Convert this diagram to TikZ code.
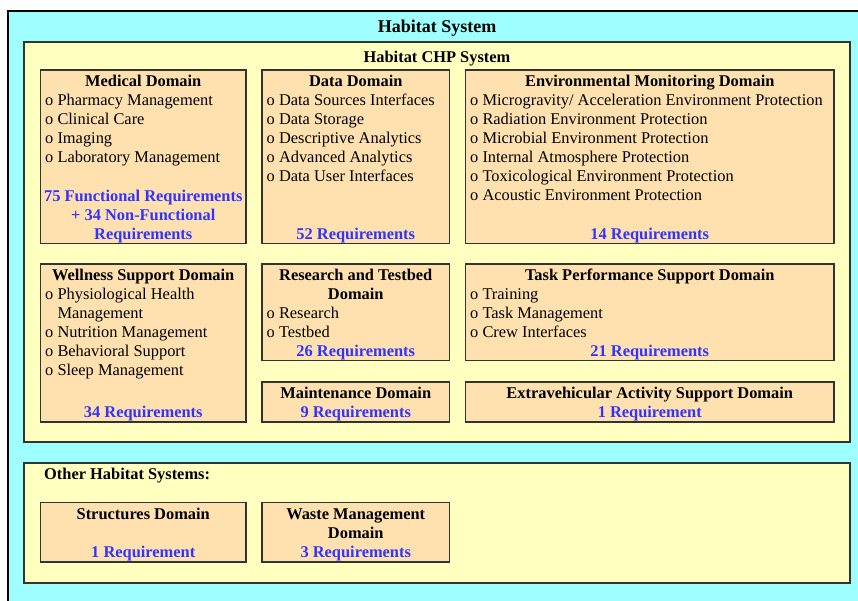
\documentclass[tikz,border=0pt]{standalone}
\usepackage{fontspec}
\setmainfont{Liberation Serif}
\usetikzlibrary{positioning}
\definecolor{habcyan}{HTML}{9FFFFF}
\definecolor{chpyellow}{HTML}{FFFFC0}
\definecolor{dompeach}{HTML}{FFE1B0}
\definecolor{reqblue}{HTML}{3333FF}
\tikzset{
  sysbox/.style={draw=black!80, line width=1.2pt, fill=chpyellow, anchor=north west, inner sep=0pt, outer sep=0pt},
  dombox/.style={draw=black!80, line width=1.1pt, fill=dompeach, anchor=north west, inner sep=0pt, outer sep=0pt},
  head/.style={font=\fontsize{16.4}{19}\selectfont\bfseries, anchor=base, inner sep=0pt, align=center},
  items/.style={font=\fontsize{16.4}{19}\selectfont, anchor=base west, inner sep=0pt, align=left},
  req/.style={font=\fontsize{16.4}{19}\selectfont\bfseries, text=reqblue, anchor=base, inner sep=0pt, align=center}
}
\begin{document}
\begin{tikzpicture}[x=1pt,y=-1pt]
\useasboundingbox (0,0) rectangle (858,600);
\draw[fill=habcyan, line width=2pt] (8,11) rectangle (866,610);
\node[head, font=\fontsize{18}{21}\selectfont\bfseries] (habitat) at (437,32.5) {Habitat System};

% CHP system and its domains (base of a text = its last line)
\node[sysbox, minimum width=826pt, minimum height=400pt] (chp) at (24,42) {};
\node[head] (chpT) at ([yshift=-20pt]chp.north) {Habitat CHP System};

\node[dombox, minimum width=205.5pt, minimum height=173.5pt] (med) at (40.5,70) {};
\node[head] (medT) at ([yshift=-16.5pt]med.north) {Medical Domain};
\node[items] (medL) at ([xshift=4.5pt,yshift=-92.5pt]med.north west) {o Pharmacy Management\\o Clinical Care\\o Imaging\\o Laboratory Management};
\node[req] (medR) at ([yshift=4.5pt]med.south) {75 Functional Requirements\\+ 34 Non-Functional\\Requirements};

\node[dombox, minimum width=187.5pt, minimum height=173.5pt] (data) at (262,70) {};
\node[head] (dataT) at ([yshift=-16.5pt]data.north) {Data Domain};
\node[items] (dataL) at ([xshift=4.5pt,yshift=-111.5pt]data.north west) {o Data Sources Interfaces\\o Data Storage\\o Descriptive Analytics\\o Advanced Analytics\\o Data User Interfaces};
\node[req] (dataR) at ([yshift=4.5pt]data.south) {52 Requirements};

\node[dombox, minimum width=368.5pt, minimum height=173.5pt] (env) at (465.5,70) {};
\node[head] (envT) at ([yshift=-16.5pt]env.north) {Environmental Monitoring Domain};
\node[items] (envL) at ([xshift=4.5pt,yshift=-130.5pt]env.north west) {o Microgravity/ Acceleration Environment Protection\\o Radiation Environment Protection\\o Microbial Environment Protection\\o Internal Atmosphere Protection\\o Toxicological Environment Protection\\o Acoustic Environment Protection};
\node[req] (envR) at ([yshift=4.5pt]env.south) {14 Requirements};

\node[dombox, minimum width=205.5pt, minimum height=158pt] (well) at (40.5,264) {};
\node[head] (wellT) at ([yshift=-16.5pt]well.north) {Wellness Support Domain};
\node[items] (wellL) at ([xshift=4.5pt,yshift=-111.5pt]well.north west) {o Physiological Health\\\phantom{o }Management\\o Nutrition Management\\o Behavioral Support\\o Sleep Management};
\node[req] (wellR) at ([yshift=4.5pt]well.south) {34 Requirements};

\node[dombox, minimum width=187.5pt, minimum height=96.5pt] (res) at (262,264) {};
\node[head] (resT) at ([yshift=-35.5pt]res.north) {Research and Testbed\\Domain};
\node[items] (resL) at ([xshift=4.5pt,yshift=-73.5pt]res.north west) {o Research\\o Testbed};
\node[req] (resR) at ([yshift=4.5pt]res.south) {26 Requirements};

\node[dombox, minimum width=368.5pt, minimum height=96.5pt] (task) at (465.5,264) {};
\node[head] (taskT) at ([yshift=-16.5pt]task.north) {Task Performance Support Domain};
\node[items] (taskL) at ([xshift=4.5pt,yshift=-73.5pt]task.north west) {o Training\\o Task Management\\o Crew Interfaces};
\node[req] (taskR) at ([yshift=4.5pt]task.south) {21 Requirements};

\node[dombox, minimum width=187.5pt, minimum height=40pt] (maint) at (262,382) {};
\node[head] (maintT) at ([yshift=-16.5pt]maint.north) {Maintenance Domain};
\node[req] (maintR) at ([yshift=4.5pt]maint.south) {9 Requirements};

\node[dombox, minimum width=368.5pt, minimum height=40pt] (eva) at (465.5,382) {};
\node[head] (evaT) at ([yshift=-16.5pt]eva.north) {Extravehicular Activity Support Domain};
\node[req] (evaR) at ([yshift=4.5pt]eva.south) {1 Requirement};

% other habitat systems
\node[sysbox, minimum width=826pt, minimum height=120pt] (other) at (24,463) {};
\node[head, anchor=base west] (otherT) at ([xshift=20pt,yshift=-16.5pt]other.north west) {Other Habitat Systems:};

\node[dombox, minimum width=205.5pt, minimum height=59.5pt] (struct) at (40.5,502.5) {};
\node[head] (structT) at ([yshift=-16.5pt]struct.north) {Structures Domain};
\node[req] (structR) at ([yshift=4.5pt]struct.south) {1 Requirement};

\node[dombox, minimum width=187.5pt, minimum height=59.5pt] (waste) at (262,502.5) {};
\node[head] (wasteT) at ([yshift=-35.5pt]waste.north) {Waste Management\\Domain};
\node[req] (wasteR) at ([yshift=4.5pt]waste.south) {3 Requirements};
\end{tikzpicture}
\end{document}
